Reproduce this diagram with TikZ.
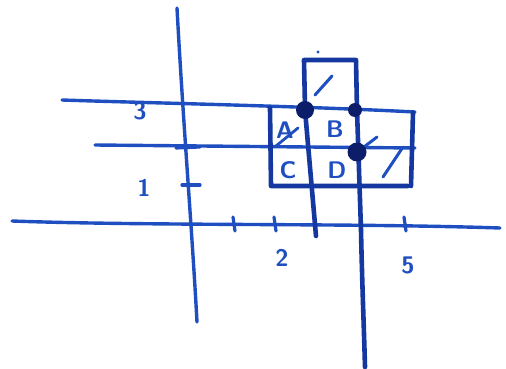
\documentclass[tikz,border=0pt]{standalone}
\usepackage{xcolor}
\usepackage{tikz}
\usetikzlibrary{positioning}
\definecolor{pen}{RGB}{30,78,192}
\definecolor{penbold}{RGB}{20,56,160}
\definecolor{ink}{RGB}{12,30,105}

\begin{document}
\begin{tikzpicture}[x=1pt,y=-1pt,line cap=round,line join=round,
  axis/.style={pen,line width=3.4pt},
  cell/.style={penbold,line width=4.6pt},
  tick/.style={pen,line width=3.2pt},
  dot/.style={circle,fill=ink,inner sep=0pt,minimum size=#1},
  lbl/.style={pen,font=\sffamily\bfseries\fontsize{24}{24}\selectfont,inner sep=0pt}]
  \useasboundingbox (0,0) rectangle (506,369);
  % axes
  \draw[axis] (177,8) .. controls (183,120) and (192,230) .. (197,322);
  \draw[axis] (12,221) .. controls (150,226) and (350,223) .. (500,228);
  % ticks on x axis
  \foreach \tx in {234,275,405}
    \draw[tick] (\tx-1,217) -- (\tx+1,231);
  % ticks on y axis
  \draw[tick] (182,185) -- (200,185);
  \draw[tick] (176,148) -- (200,147);
  % grid lines y=3 and y=2
  \draw[axis] (62,100) .. controls (150,103) and (300,106) .. (415,112);
  \draw[axis] (95,145) -- (415,148);
  % the strip
  \draw[cell] (270,108) -- (271,186) -- (408,186);
  \draw[cell] (413,113) -- (411,186);
  % top box
  \draw[cell] (305,108) -- (304,60) -- (356,60) -- (357,110);
  % verticals through the cells
  \draw[cell] (305,110) -- (316,236);
  \draw[cell] (357,110) -- (361,230) .. controls (362,280) and (364,330) .. (365,367);
  % marks
  \draw[pen,line width=3pt] (315,95) -- (332,76);
  \draw[pen,line width=3pt] (383,177) -- (403,147);
  \draw[pen,line width=3pt] (364,147) -- (377,137);
  \draw[pen,line width=2.8pt] (276,146) -- (298,128);
  \fill[pen] (318,52) circle (1.6);
  % corner dots
  \node[dot=18pt] (p) at (305,110) {};
  \node[dot=14pt] (q) at (355,110) {};
  \node[dot=19pt] (r) at (357,152) {};
  % cell names
  \node[lbl] (A) at (285,130) {A};
  \node[lbl] (B) at (335,129) {B};
  \node[lbl] (C) at (288,170) {C};
  \node[lbl] (D) at (337,170) {D};
  % numbers
  \node[lbl] (y3) at (140,111) {3};
  \node[lbl] (y1) at (144,188) {1};
  \node[lbl] (x2) at (282,258) {2};
  \node[lbl] (x5) at (408,265) {5};
\end{tikzpicture}
\end{document}
